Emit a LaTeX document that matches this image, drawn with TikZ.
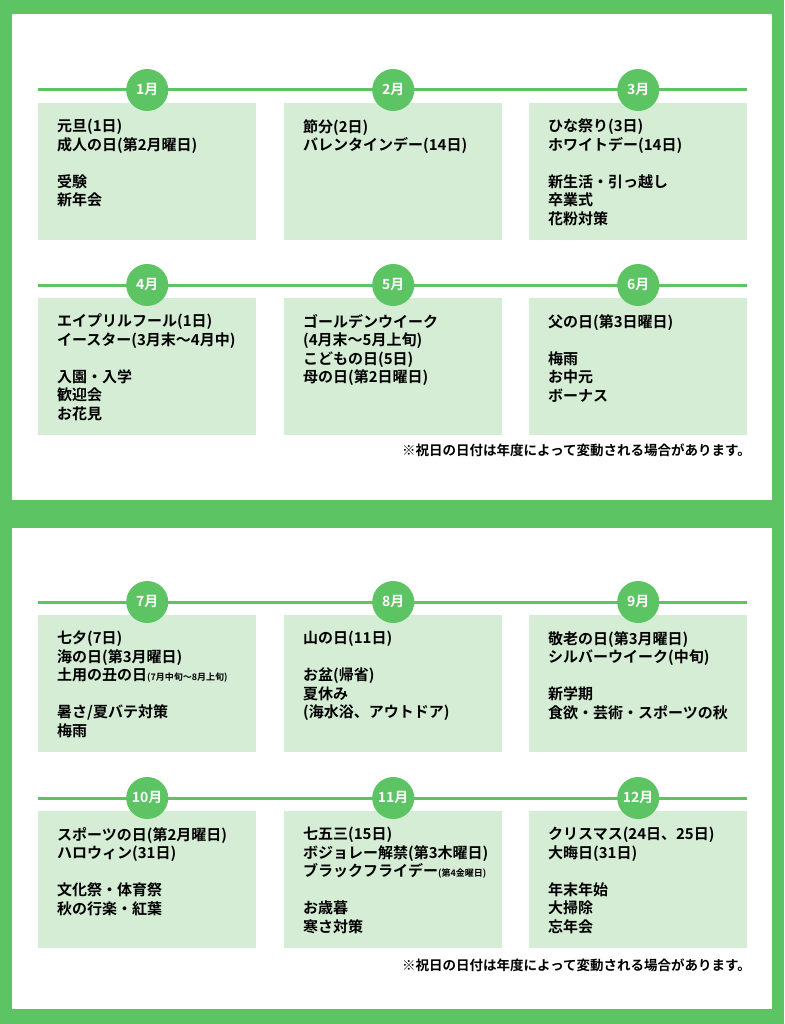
\documentclass[tikz,border=0pt]{standalone}
\usepackage{fontspec}
\setmainfont{Noto Sans CJK JP}[BoldFont={Noto Sans CJK JP Bold}]
\usetikzlibrary{positioning}
\definecolor{frgreen}{RGB}{92,196,99}
\definecolor{boxgreen}{RGB}{212,237,212}
\tikzset{
  monthbox/.style={fill=boxgreen,draw=none,minimum width=218pt,minimum height=137pt,anchor=north west,inner sep=0pt},
  monthtxt/.style={anchor=north west,align=left,inner sep=0pt,font=\bfseries\fontsize{15}{18.5}\selectfont},
  monthdot/.style={circle,fill=frgreen,minimum size=42pt,inner sep=0pt,text=white,font=\bfseries\fontsize{14}{14}\selectfont},
  rowline/.style={draw=frgreen,line width=3pt},
  notetxt/.style={anchor=east,inner sep=0pt,font=\bfseries\fontsize{13.5}{14}\selectfont}
}
% one month: name, x, y of box top, label, text
\newcommand{\monthcell}[5]{%
  \node[monthbox] (#1) at (#2,#3) {};
  \node[monthtxt] (#1t) at ([xshift=19pt,yshift=-16pt]#1.north west) {#5};
  \node[monthdot] (#1c) at ([yshift=13pt]#1.north) {#4};
}
\newcommand{\sm}[1]{{\fontsize{9}{10}\selectfont #1}}
\begin{document}
\begin{tikzpicture}[x=1pt,y=-1pt]
\useasboundingbox (0,0) rectangle (784,1024);
\fill[frgreen] (0,0) rectangle (784,1024);
\fill[white] (12,14) rectangle (772,500);
\fill[white] (12,528) rectangle (772,1009);

% row lines
\foreach \ly in {90,285,602,798}
  \draw[rowline] (38,\ly) -- (747,\ly);

% first half
\monthcell{jan}{38}{103}{1月}{元旦(1日)\\成人の日(第2月曜日)\\~\\受験\\新年会}
\monthcell{feb}{284}{103}{2月}{節分(2日)\\バレンタインデー(14日)}
\monthcell{mar}{529}{103}{3月}{ひな祭り(3日)\\ホワイトデー(14日)\\~\\新生活・引っ越し\\卒業式\\花粉対策}
\monthcell{apr}{38}{298}{4月}{エイプリルフール(1日)\\イースター(3月末～4月中)\\~\\入園・入学\\歓迎会\\お花見}
\monthcell{may}{284}{298}{5月}{ゴールデンウイーク\\(4月末～5月上旬)\\こどもの日(5日)\\母の日(第2日曜日)}
\monthcell{jun}{529}{298}{6月}{父の日(第3日曜日)\\~\\梅雨\\お中元\\ボーナス}
\node[notetxt] (note1) at (751,450) {※祝日の日付は年度によって変動される場合があります。};

% second half
\monthcell{jul}{38}{615}{7月}{七夕(7日)\\海の日(第3月曜日)\\土用の丑の日\sm{(7月中旬～8月上旬)}\\~\\暑さ/夏バテ対策\\梅雨}
\monthcell{aug}{284}{615}{8月}{山の日(11日)\\~\\お盆(帰省)\\夏休み\\(海水浴、アウトドア)}
\monthcell{sep}{529}{615}{9月}{敬老の日(第3月曜日)\\シルバーウイーク(中旬)\\~\\新学期\\食欲・芸術・スポーツの秋}
\monthcell{oct}{38}{811}{10月}{スポーツの日(第2月曜日)\\ハロウィン(31日)\\~\\文化祭・体育祭\\秋の行楽・紅葉}
\monthcell{nov}{284}{811}{11月}{七五三(15日)\\ボジョレー解禁(第3木曜日)\\ブラックフライデー\sm{(第4金曜日)}\\~\\お歳暮\\寒さ対策}
\monthcell{dec}{529}{811}{12月}{クリスマス(24日、25日)\\大晦日(31日)\\~\\年末年始\\大掃除\\忘年会}
\node[notetxt] (note2) at (751,965) {※祝日の日付は年度によって変動される場合があります。};
\end{tikzpicture}
\end{document}
